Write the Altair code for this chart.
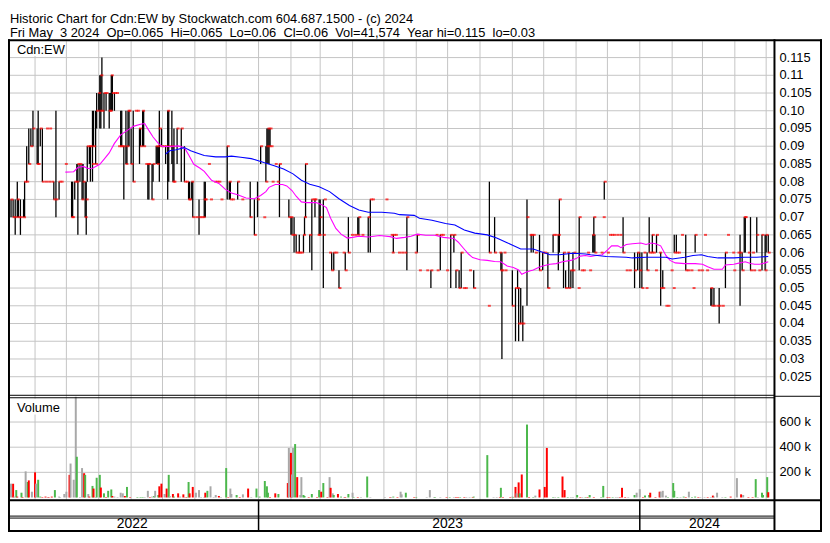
import altair as alt
import pandas as pd

# ---------------------------------------------------------------- data
START = "2022-05-08"          # first day shown on the time axis
END = "2024-05-08"

TITLE_1 = "Historic Chart for Cdn:EW by Stockwatch.com 604.687.1500 - (c) 2024"
TITLE_2 = "Fri May  3 2024  Op=0.065  Hi=0.065  Lo=0.06  Cl=0.06  Vol=41,574  Year hi=0.115  lo=0.03"
SYMBOL = "Cdn:EW"
VOL_TITLE = "Volume"

# daily price bars: day number counted from START, high, low, close
BAR_DAY = [1, 3, 5, 7, 8, 10, 13, 14, 16, 18,
           20, 22, 26, 27, 29, 31, 34, 35, 37, 38,
           40, 42, 44, 47, 49, 53, 59, 60, 62, 64,
           65, 67, 69, 70, 72, 73, 74, 76, 77, 79,
           80, 82, 83, 85, 86, 87, 88, 90, 92, 95,
           96, 97, 98, 100, 102, 104, 106, 107, 109, 111,
           112, 113, 114, 116, 118, 120, 122, 124, 125, 127,
           128, 130, 132, 133, 136, 137, 140, 141, 142, 143,
           145, 147, 149, 151, 152, 155, 156, 157, 160, 164,
           167, 169, 171, 172, 174, 175, 178, 181, 183, 185,
           186, 187, 190, 192, 196, 198, 200, 202, 208, 210,
           211, 213, 218, 222, 230, 234, 237, 240, 243, 245,
           246, 247, 248, 249, 250, 251, 254, 256, 258, 267,
           269, 270, 272, 274, 276, 277, 279, 281, 282, 283,
           287, 289, 291, 292, 295, 296, 297, 300, 301, 306,
           308, 310, 312, 315, 319, 321, 324, 327, 330, 333,
           334, 337, 343, 345, 347, 360, 365, 366, 367, 369,
           372, 375, 378, 380, 388, 390, 392, 399, 403, 408,
           409, 412, 414, 418, 422, 425, 427, 430, 432, 434,
           436, 440, 444, 458, 459, 464, 469, 470, 471, 473,
           474, 481, 484, 486, 487, 489, 491, 495, 498, 499,
           501, 503, 507, 510, 512, 515, 520, 522, 525, 526,
           530, 532, 534, 535, 537, 539, 540, 544, 545, 547,
           549, 553, 555, 558, 559, 560, 566, 568, 569, 572,
           574, 576, 578, 581, 584, 587, 590, 593, 598, 601,
           603, 605, 607, 609, 610, 612, 614, 615, 616, 618,
           619, 622, 623, 625, 628, 630, 633, 635, 636, 638,
           640, 643, 647, 649, 652, 654, 656, 659, 662, 665,
           667, 671, 672, 674, 677, 679, 682, 685, 687, 692,
           693, 697, 699, 701, 703, 704, 707, 709, 711, 712,
           715, 717, 720, 723, 724, 726]
BAR_HIGH = [.075, .075, .075, .080, .075, .075, .075, .080, .090, .095,
            .095, .100, .095, .100, .095, .095, .080, .095, .080, .095,
            .080, .080, .100, .080, .080, .085, .080, .080, .080, .085,
            .085, .085, .085, .085, .080, .080, .090, .090, .090, .100,
            .100, .100, .105, .105, .110, .110, .115, .105, .105, .105,
            .105, .110, .110, .105, .105, .090, .100, .100, .090, .100,
            .090, .100, .100, .095, .100, .100, .100, .095, .095, .100,
            .100, .085, .085, .085, .085, .085, .090, .090, .090, .100,
            .095, .090, .090, .100, .100, .100, .090, .095, .095, .095,
            .090, .080, .080, .080, .080, .080, .070, .075, .070, .070,
            .080, .080, .085, .075, .080, .080, .080, .075, .090, .080,
            .080, .075, .080, .075, .080, .075, .080, .090, .070, .090,
            .095, .095, .095, .095, .090, .080, .085, .080, .085, .075,
            .070, .070, .070, .065, .060, .065, .060, .065, .070, .085,
            .065, .075, .075, .075, .065, .075, .075, .075, .075, .060,
            .060, .060, .060, .055, .060, .060, .070, .065, .065, .070,
            .070, .065, .070, .075, .075, .075, .065, .060, .065, .065,
            .060, .060, .060, .070, .060, .065, .055, .055, .055, .065,
            .055, .065, .065, .055, .065, .065, .055, .055, .060, .050,
            .050, .055, .055, .045, .080, .070, .060, .060, .060, .060,
            .055, .055, .050, .055, .050, .050, .045, .075, .065, .065,
            .065, .060, .065, .060, .060, .060, .065, .065, .065, .075,
            .060, .055, .060, .060, .055, .060, .060, .050, .070, .055,
            .055, .060, .055, .065, .070, .065, .060, .070, .080, .060,
            .065, .065, .065, .065, .065, .070, .055, .055, .060, .060,
            .060, .060, .060, .050, .060, .070, .060, .065, .060, .055,
            .065, .060, .060, .055, .045, .045, .055, .050, .065, .065,
            .060, .065, .065, .055, .055, .050, .065, .055, .055, .065,
            .055, .050, .050, .050, .045, .050, .045, .060, .065, .060,
            .055, .060, .065, .060, .070, .070, .060, .070, .060, .055,
            .070, .055, .065, .065, .065, .065]
BAR_LOW = [.070, .070, .065, .070, .070, .065, .070, .070, .080, .085,
           .090, .090, .085, .085, .090, .080, .080, .095, .080, .095,
           .080, .075, .070, .075, .080, .085, .070, .070, .075, .080,
           .065, .080, .075, .075, .070, .065, .080, .085, .080, .080,
           .090, .085, .095, .100, .095, .095, .100, .095, .100, .095,
           .100, .100, .100, .100, .105, .090, .090, .090, .075, .085,
           .085, .090, .090, .085, .080, .100, .100, .085, .090, .090,
           .090, .085, .075, .075, .075, .080, .085, .085, .085, .080,
           .090, .090, .085, .075, .080, .085, .080, .080, .085, .080,
           .080, .080, .075, .075, .075, .070, .070, .065, .070, .070,
           .070, .070, .085, .075, .080, .080, .080, .075, .075, .075,
           .075, .075, .075, .075, .070, .065, .070, .085, .070, .080,
           .085, .085, .085, .090, .090, .080, .085, .080, .070, .070,
           .065, .065, .060, .060, .060, .060, .060, .060, .065, .070,
           .060, .055, .075, .070, .065, .065, .065, .050, .075, .060,
           .055, .055, .060, .050, .060, .055, .060, .065, .065, .065,
           .065, .065, .060, .060, .075, .075, .065, .060, .060, .065,
           .060, .060, .060, .055, .060, .060, .055, .055, .050, .065,
           .055, .055, .065, .055, .050, .060, .050, .050, .050, .050,
           .050, .055, .050, .045, .060, .060, .060, .055, .030, .060,
           .055, .045, .035, .050, .035, .040, .035, .045, .065, .060,
           .060, .060, .055, .055, .060, .050, .060, .065, .055, .060,
           .050, .050, .060, .050, .050, .050, .060, .050, .055, .055,
           .055, .060, .055, .060, .060, .060, .060, .070, .075, .060,
           .065, .065, .065, .065, .065, .060, .055, .055, .050, .055,
           .050, .050, .060, .050, .055, .060, .060, .060, .060, .055,
           .060, .060, .045, .050, .045, .045, .055, .050, .060, .060,
           .060, .065, .055, .055, .055, .050, .060, .055, .055, .065,
           .055, .045, .045, .045, .045, .040, .045, .050, .065, .060,
           .055, .060, .045, .055, .060, .060, .060, .055, .060, .055,
           .060, .055, .055, .055, .060, .060]
BAR_CLOSE = [.075, .070, .070, .075, .070, .070, .070, .080, .080, .085,
             .090, .095, .085, .085, .095, .080, .080, .095, .080, .095,
             .080, .075, .075, .080, .080, .085, .070, .070, .080, .080,
             .085, .085, .075, .080, .070, .075, .090, .090, .090, .085,
             .090, .085, .100, .105, .100, .110, .100, .105, .105, .100,
             .100, .110, .105, .105, .105, .090, .090, .090, .090, .085,
             .090, .100, .100, .085, .080, .100, .100, .095, .090, .100,
             .090, .085, .085, .085, .075, .085, .090, .085, .090, .095,
             .090, .090, .090, .100, .090, .090, .080, .080, .095, .095,
             .080, .080, .075, .075, .080, .070, .070, .070, .070, .070,
             .075, .075, .085, .075, .080, .080, .080, .075, .090, .080,
             .075, .075, .080, .075, .070, .065, .075, .090, .070, .080,
             .090, .095, .090, .095, .090, .080, .085, .080, .085, .070,
             .070, .065, .065, .060, .060, .060, .060, .065, .070, .085,
             .065, .075, .075, .075, .065, .065, .070, .065, .075, .060,
             .055, .060, .060, .050, .060, .055, .060, .065, .065, .065,
             .070, .065, .070, .075, .075, .075, .065, .060, .065, .065,
             .060, .060, .060, .070, .060, .065, .055, .055, .055, .065,
             .055, .065, .065, .055, .065, .065, .055, .050, .060, .050,
             .050, .055, .050, .045, .060, .060, .060, .055, .055, .060,
             .055, .045, .050, .050, .040, .040, .040, .070, .065, .065,
             .065, .060, .055, .060, .060, .050, .065, .065, .065, .075,
             .060, .050, .060, .050, .055, .055, .060, .050, .070, .055,
             .055, .060, .055, .065, .070, .060, .060, .070, .080, .060,
             .065, .065, .065, .065, .065, .060, .055, .055, .055, .060,
             .055, .050, .060, .050, .055, .060, .060, .065, .060, .055,
             .065, .060, .050, .050, .045, .045, .055, .050, .060, .060,
             .060, .065, .055, .055, .055, .050, .065, .055, .055, .065,
             .055, .050, .045, .045, .045, .045, .045, .060, .065, .060,
             .055, .060, .060, .055, .070, .070, .060, .055, .060, .055,
             .065, .055, .065, .055, .065, .060]

# short moving average (magenta) and long moving average (blue)
MA_S_DAY = [53, 61, 65, 70, 75, 79, 86, 90, 95, 100, 106, 112, 118, 125, 129, 132, 137, 142,
            146, 153, 161, 167, 171, 176, 182, 186, 193, 200, 206, 212, 218, 226, 234, 240,
            245, 248, 254, 261, 265, 270, 274, 279, 284, 293, 298, 303, 307, 312, 317, 323,
            328, 334, 343, 354, 364, 370, 378, 384, 390, 398, 407, 415, 425, 429, 434, 439,
            443, 450, 457, 464, 470, 476, 482, 487, 490, 495, 501, 506, 510, 517, 523, 529,
            537, 542, 546, 551, 556, 561, 567, 572, 576, 582, 585, 590, 596, 604, 609, 614,
            618, 623, 628, 632, 637, 646, 656, 663, 668, 674, 682, 685, 693, 699, 704, 709,
            713, 718, 723, 726]
MA_S_VAL = [.0827, .0828, .0840, .0843, .0837, .0838, .0849, .0863, .0881, .0908, .0932, .0944,
            .0956, .0962, .0964, .0949, .0926, .0908, .0899, .0899, .0901, .0896, .0876, .0849,
            .0838, .0829, .0804, .0795, .0779, .0768, .0763, .0754, .0752, .0761, .0772, .0784,
            .0792, .0792, .0788, .0775, .0759, .0743, .0741, .0741, .0736, .0727, .0697, .0668,
            .0652, .0641, .0643, .0646, .0644, .0648, .0645, .0640, .0643, .0646, .0652, .0649,
            .0649, .0643, .0640, .0630, .0613, .0596, .0586, .0580, .0578, .0575, .0574, .0562,
            .0558, .0551, .0539, .0546, .0551, .0558, .0562, .0567, .0569, .0574, .0578, .0583,
            .0590, .0592, .0589, .0592, .0594, .0607, .0619, .0619, .0614, .0623, .0625, .0627,
            .0623, .0627, .0625, .0619, .0592, .0578, .0571, .0569, .0569, .0567, .0560, .0553,
            .0553, .0565, .0567, .0571, .0574, .0569, .0567, .0567, .0571, .0574]
MA_L_DAY = [149, 153, 159, 167, 173, 179, 186, 197, 206, 212, 221, 231, 237, 243, 253, 262,
            271, 279, 287, 296, 306, 315, 325, 334, 343, 356, 368, 373, 387, 392, 404, 417,
            426, 435, 445, 457, 466, 476, 489, 501, 510, 517, 526, 539, 551, 556, 571, 590,
            596, 609, 628, 634, 646, 654, 662, 668, 678, 693, 703, 715, 726]
MA_L_VAL = [.0878, .0887, .0890, .0896, .0887, .0881, .0874, .0870, .0870, .0872, .0869, .0865,
            .0860, .0854, .0845, .0836, .0822, .0804, .0793, .0786, .0772, .0752, .0733, .0720,
            .0714, .0714, .0711, .0707, .0705, .0697, .0691, .0682, .0678, .0664, .0655, .0650,
            .0641, .0628, .0610, .0610, .0601, .0594, .0594, .0598, .0596, .0594, .0589, .0587,
            .0585, .0587, .0587, .0582, .0587, .0592, .0594, .0589, .0585, .0585, .0587, .0587,
            .0589]

# daily volume (thousands of shares); u = up day, d = down day, n = unchanged
VOL_DAY = [1, 3, 4, 6, 7, 11, 12, 15, 17, 18,
           21, 24, 25, 27, 29, 31, 34, 36, 37, 40,
           43, 47, 48, 52, 54, 57, 58, 61, 63, 64,
           67, 69, 71, 72, 75, 76, 79, 80, 82, 83,
           86, 87, 90, 92, 94, 97, 98, 100, 103, 106,
           108, 110, 112, 115, 122, 125, 127, 129, 132, 134,
           136, 138, 139, 142, 143, 145, 148, 150, 152, 153,
           156, 157, 161, 163, 166, 167, 169, 171, 172, 175,
           178, 181, 183, 186, 187, 189, 192, 195, 197, 200,
           202, 207, 209, 211, 212, 217, 220, 223, 228, 231,
           236, 239, 244, 246, 247, 249, 254, 257, 266, 267,
           269, 270, 271, 273, 275, 278, 279, 281, 282, 286,
           289, 294, 296, 298, 300, 304, 306, 307, 309, 310,
           314, 317, 320, 321, 324, 328, 329, 333, 336, 342,
           345, 359, 364, 365, 367, 371, 374, 375, 379, 387,
           389, 399, 402, 406, 407, 412, 418, 421, 425, 427,
           429, 431, 435, 437, 440, 443, 444, 457, 463, 466,
           469, 470, 472, 479, 481, 482, 484, 485, 487, 488,
           490, 495, 497, 501, 503, 507, 512, 514, 520, 522,
           525, 529, 531, 534, 537, 539, 543, 546, 548, 551,
           553, 555, 559, 566, 568, 572, 574, 577, 580, 582,
           584, 586, 589, 592, 598, 600, 603, 606, 608, 612,
           613, 618, 622, 623, 625, 628, 630, 635, 636, 639,
           642, 645, 647, 650, 653, 656, 659, 661, 665, 668,
           671, 673, 674, 677, 682, 685, 690, 696, 700, 702,
           707, 711, 714, 716, 720, 721, 725, 726]
VOL_K = [110, 110, 7, 59, 7, 38, 4, 208, 123, 136,
         46, 200, 110, 141, 7, 4, 7, 4, 4, 7,
         59, 7, 4, 28, 46, 180, 270, 141, 820, 324,
         4, 234, 193, 180, 28, 7, 92, 71, 4, 157,
         180, 79, 33, 4, 53, 64, 12, 7, 4, 38,
         33, 12, 84, 4, 4, 4, 4, 4, 53, 4,
         7, 12, 53, 20, 89, 110, 28, 71, 180, 12,
         28, 7, 33, 7, 25, 4, 4, 123, 33, 84,
         38, 59, 4, 4, 38, 53, 89, 4, 20, 12,
         4, 234, 4, 71, 28, 20, 4, 25, 71, 4,
         71, 7, 131, 89, 38, 4, 33, 28, 115, 394,
         355, 183, 394, 425, 162, 20, 162, 20, 12, 4,
         28, 4, 59, 46, 115, 4, 162, 77, 33, 20,
         28, 7, 4, 4, 28, 38, 4, 4, 4, 167,
         4, 4, 4, 4, 7, 4, 46, 25, 38, 4,
         4, 4, 59, 4, 4, 4, 4, 4, 4, 4,
         4, 4, 4, 4, 4, 4, 7, 337, 4, 4,
         4, 77, 4, 4, 7, 4, 84, 33, 120, 33,
         183, 580, 4, 4, 15, 64, 84, 394, 4, 4,
         4, 167, 59, 4, 4, 4, 20, 4, 4, 4,
         4, 20, 4, 4, 92, 4, 4, 4, 4, 4,
         4, 77, 4, 4, 20, 38, 66, 4, 15, 20,
         38, 4, 46, 46, 53, 15, 4, 115, 53, 4,
         4, 7, 4, 46, 4, 7, 4, 4, 4, 4,
         4, 15, 7, 38, 4, 4, 7, 154, 25, 20,
         4, 4, 146, 4, 38, 20, 162, 42]
VOL_DIR = ["n", "d", "n", "u", "d", "u", "d", "n", "u", "d",
           "n", "d", "n", "u", "u", "d", "d", "n", "d", "d",
           "u", "n", "n", "n", "n", "d", "n", "n", "n", "u",
           "n", "n", "d", "u", "n", "d", "u", "d", "n", "u",
           "u", "d", "u", "d", "u", "u", "d", "n", "n", "n",
           "n", "d", "u", "d", "u", "u", "u", "n", "n", "d",
           "n", "u", "n", "u", "d", "d", "n", "d", "u", "n",
           "d", "u", "d", "n", "d", "n", "d", "u", "d", "d",
           "n", "n", "n", "n", "d", "u", "n", "n", "n", "d",
           "n", "u", "d", "n", "n", "u", "d", "n", "d", "n",
           "u", "u", "u", "u", "u", "d", "d", "u", "d", "n",
           "d", "n", "n", "u", "d", "n", "n", "u", "u", "d",
           "u", "d", "u", "d", "u", "d", "n", "d", "n", "u",
           "d", "u", "n", "d", "u", "n", "u", "d", "n", "u",
           "n", "n", "d", "n", "u", "d", "n", "n", "u", "d",
           "u", "n", "n", "n", "u", "n", "d", "u", "n", "d",
           "d", "u", "d", "n", "n", "d", "u", "u", "n", "n",
           "d", "u", "d", "d", "n", "u", "d", "n", "d", "u",
           "d", "u", "d", "u", "n", "d", "d", "d", "u", "n",
           "u", "d", "d", "u", "n", "n", "u", "d", "n", "u",
           "d", "u", "d", "u", "u", "d", "d", "u", "n", "n",
           "d", "d", "d", "n", "u", "n", "n", "d", "u", "u",
           "d", "d", "d", "n", "n", "n", "u", "u", "u", "u",
           "n", "u", "d", "n", "u", "u", "d", "n", "n", "d",
           "n", "d", "n", "n", "n", "u", "d", "n", "d", "n",
           "d", "d", "u", "n", "u", "u", "u", "d"]

PRICE_TICKS = [0.025, 0.03, 0.035, 0.04, 0.045, 0.05, 0.055, 0.06, 0.065, 0.07,
               0.075, 0.08, 0.085, 0.09, 0.095, 0.10, 0.105, 0.11, 0.115]
PRICE_LABELS = ["0.025", "0.03", "0.035", "0.04", "0.045", "0.05", "0.055", "0.06", "0.065",
                "0.07", "0.075", "0.08", "0.085", "0.09", "0.095", "0.10", "0.105", "0.11", "0.115"]
VOL_TICKS = [200000, 400000, 600000]
VOL_LABELS = ["200 k", "400 k", "600 k"]
YEAR_STARTS = ["2023-01-01", "2024-01-01"]
YEAR_NAMES = ["2022", "2023", "2024"]
YEAR_MIDS = ["2022-09-02", "2023-07-01", "2024-03-03"]

# ---------------------------------------------------------------- layout / style
W, H = 771, 494
PRICE_RANGE = [357, 0]
VOL_BOTTOM, VOL_TOP = 463, 359
FONT = "Liberation Sans"
GRID = "#c4c4c4"
UP, DOWN, FLAT = "#4cb84c", "#ff0000", "#a8a8a8"


def to_dates(days):
    return list((pd.Timestamp(START) + pd.to_timedelta(days, unit="D")).strftime("%Y-%m-%d"))


bars = pd.DataFrame({"date": to_dates(BAR_DAY), "high": BAR_HIGH, "low": BAR_LOW, "close": BAR_CLOSE})
vol = pd.DataFrame({"date": to_dates(VOL_DAY), "volume": [v * 1000 for v in VOL_K], "dir": VOL_DIR})
ma_s = pd.DataFrame({"date": to_dates(MA_S_DAY), "ma": MA_S_VAL})
ma_l = pd.DataFrame({"date": to_dates(MA_L_DAY), "ma": MA_L_VAL})
months = pd.DataFrame({"date": list(pd.date_range("2022-06-01", "2024-05-01", freq="MS").strftime("%Y-%m-%d"))})
plevels = pd.DataFrame({"level": PRICE_TICKS, "label": PRICE_LABELS})
vlevels = pd.DataFrame({"level": VOL_TICKS, "label": VOL_LABELS})
ystarts = pd.DataFrame({"date": YEAR_STARTS})
ylabels = pd.DataFrame({"date": YEAR_MIDS, "label": YEAR_NAMES})
ONE = pd.DataFrame({"k": [0]})

XS = alt.Scale(domain=[alt.DateTime(year=2022, month=5, date=8, utc=True),
                       alt.DateTime(year=2024, month=5, date=8, utc=True)],
               padding=0, nice=False)
PY = alt.Scale(domain=[0.0199, 0.1196], range=PRICE_RANGE, nice=False, zero=False)
VY = alt.Scale(domain=[-18000, 801000], range=[VOL_BOTTOM, VOL_TOP], nice=False, zero=False, clamp=True)


def X():
    return alt.X("date:T", scale=XS, axis=None)


def hline(y, x1, x2, w=1.0):
    return alt.Chart(ONE).mark_rule(color="black", strokeWidth=w).encode(
        x=alt.value(x1), x2=alt.value(x2), y=alt.value(y))


def vline(x, y1, y2, w=1.0):
    return alt.Chart(ONE).mark_rule(color="black", strokeWidth=w).encode(
        x=alt.value(x), y=alt.value(y1), y2=alt.value(y2))


def text_at(txt, x, y, size=13, align="left"):
    return alt.Chart(pd.DataFrame({"t": [txt]})).mark_text(
        align=align, baseline="alphabetic", font=FONT, fontSize=size, color="black"
    ).encode(x=alt.value(x), y=alt.value(y), text="t:N")


month_grid = alt.Chart(months).mark_rule(color=GRID, strokeWidth=1).encode(
    x=X(), y=alt.value(0), y2=alt.value(VOL_BOTTOM))
price_grid = alt.Chart(plevels).mark_rule(color=GRID, strokeWidth=1).encode(
    y=alt.Y("level:Q", scale=PY, axis=None), x=alt.value(0), x2=alt.value(W))
vol_grid = alt.Chart(vlevels).mark_rule(color=GRID, strokeWidth=1).encode(
    y=alt.Y("level:Q", scale=VY, axis=None), x=alt.value(0), x2=alt.value(W))

box1 = alt.Chart(ONE).mark_rect(color="white").encode(
    x=alt.value(0), x2=alt.value(52), y=alt.value(0), y2=alt.value(15))
box2 = alt.Chart(ONE).mark_rect(color="white").encode(
    x=alt.value(0), x2=alt.value(52), y=alt.value(361), y2=alt.value(377))

hl = alt.Chart(bars).mark_rule(color="black", strokeWidth=1.3).encode(
    x=X(), y=alt.Y("low:Q", scale=PY, axis=None), y2="high:Q")
close_tick = alt.Chart(bars).mark_tick(
    color="#ff0000", orient="horizontal", size=3, thickness=2, xOffset=1
).encode(x=X(), y=alt.Y("close:Q", scale=PY, axis=None))

line_s = alt.Chart(ma_s).mark_line(color="#ff00ff", strokeWidth=1.1).encode(
    x=X(), y=alt.Y("ma:Q", scale=PY, axis=None))
line_l = alt.Chart(ma_l).mark_line(color="#0000ff", strokeWidth=1.1).encode(
    x=X(), y=alt.Y("ma:Q", scale=PY, axis=None))

vol_bars = alt.Chart(vol).mark_bar(size=2).encode(
    x=X(),
    y=alt.Y("volume:Q", scale=VY, axis=None),
    y2=alt.value(VOL_BOTTOM),
    color=alt.Color("dir:N", scale=alt.Scale(domain=["u", "d", "n"], range=[UP, DOWN, FLAT]), legend=None),
)

year_sep = alt.Chart(ystarts).mark_rule(color="black", strokeWidth=1.5).encode(
    x=X(), y=alt.value(464), y2=alt.value(494))
year_txt = alt.Chart(ylabels).mark_text(
    align="center", baseline="alphabetic", font=FONT, fontSize=14, color="black"
).encode(x=X(), y=alt.value(492), text="label:N")

price_lab = alt.Chart(plevels).mark_text(
    align="left", baseline="middle", font=FONT, fontSize=13, color="black"
).encode(x=alt.value(777), y=alt.Y("level:Q", scale=PY, axis=None), text="label:N")
vol_lab = alt.Chart(vlevels).mark_text(
    align="left", baseline="middle", font=FONT, fontSize=13, color="black"
).encode(x=alt.value(777), y=alt.Y("level:Q", scale=VY, axis=None), text="label:N")

frames = [
    hline(-1, -2, 820, 2), vline(-1, -2, 495, 2), vline(772, -2, 495, 2), vline(819, -2, 495, 2),
    hline(357.5, -2, 772), hline(360, -2, 772), hline(358.5, 772, 820),
    hline(463.5, -2, 820, 2), hline(479.5, -2, 772), hline(481.5, -2, 772),
    hline(494.5, -2, 820, 2),
]

texts = [
    text_at(TITLE_1.replace(" ", "\u00a0"), 0, -18),
    text_at(TITLE_2.replace(" ", "\u00a0"), 0, -4.5),
    text_at(SYMBOL, 7, 12.7),
    text_at(VOL_TITLE, 7, 374),
]

layers = [month_grid, price_grid, vol_grid, box1, box2, hl, close_tick, line_s, line_l,
          vol_bars, year_sep, year_txt, price_lab, vol_lab] + frames + texts

chart = alt.layer(*layers).resolve_scale(y="independent").properties(
    width=W, height=H,
    padding={"left": 2, "top": 31, "right": 49, "bottom": 2},
    autosize=alt.AutoSizeParams(type="none"),
    background="white",
).configure_view(strokeWidth=0)

chart.save("out.html", embed_options={"renderer": "svg", "actions": False})
